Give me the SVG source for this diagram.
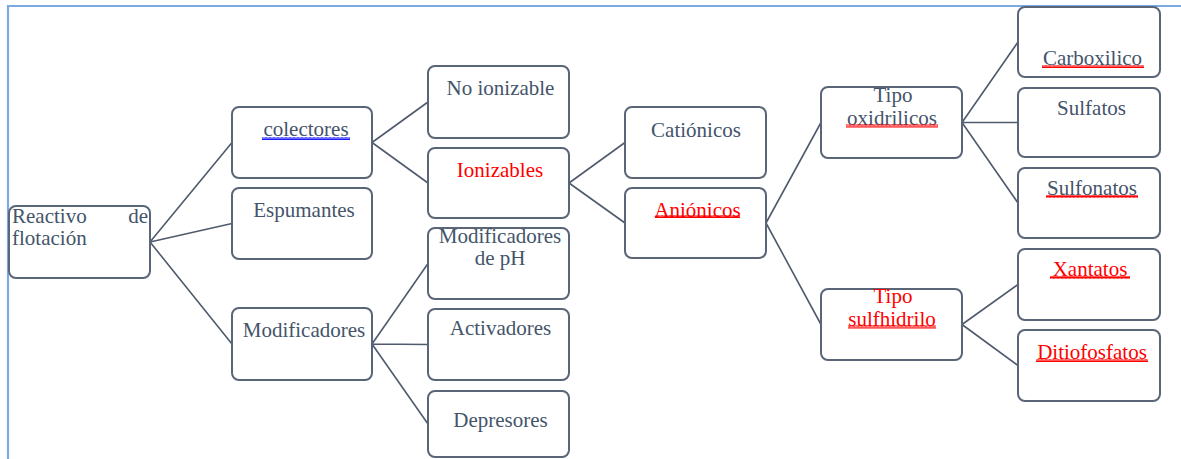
<svg xmlns="http://www.w3.org/2000/svg" width="1181" height="459" viewBox="0 0 1181 459">
<defs>
<style>
.box{fill:#fff;stroke:#5a6577;stroke-width:2;}
.t{font-family:'Liberation Serif','DejaVu Serif',serif;font-size:21px;fill:#44546A;text-anchor:middle;}
.r{fill:#FF0000;}
.l{text-anchor:start;}
.e{text-anchor:end;}
.c{stroke:#4f5b6d;stroke-width:1.6;fill:none;}
</style>
<pattern id="wr" width="4" height="3" patternUnits="userSpaceOnUse">
<path d="M0,2.6 L1,0.4 L2,2.6 L3,0.4 L4,2.6" fill="none" stroke="#FF0000" stroke-width="1.1"/>
</pattern>
<pattern id="wb" width="4" height="3" patternUnits="userSpaceOnUse">
<path d="M0,2.6 L1,0.4 L2,2.6 L3,0.4 L4,2.6" fill="none" stroke="#1a1aff" stroke-width="1.1"/>
</pattern>
</defs>
<rect width="1181" height="459" fill="#fff"/>
<path d="M8,459 V6 H1181" fill="none" stroke="#7CAAE0" stroke-width="2.2"/>

<g id="connectors">
<path class="c" d="M150,242 L232,142.5 M150,242 L232,223.5 M150,242 L232,344"/>
<path class="c" d="M372,142.5 L428,102 M372,142.5 L428,183"/>
<path class="c" d="M372,344 L428,263.5 M372,344 L428,344.5 M372,344 L428,424"/>
<path class="c" d="M569,183 L625,142.5 M569,183 L625,223"/>
<path class="c" d="M766,223 L821,122.5 M766,223 L821,324.5"/>
<path class="c" d="M962,122.5 L1018,42 M962,122.5 L1018,122.5 M962,122.5 L1018,203"/>
<path class="c" d="M962,324.5 L1018,284.5 M962,324.5 L1018,365.5"/>
</g>

<g font-family="Liberation Serif, DejaVu Serif, serif">
<g id="reactivo">
<rect class="box" x="9" y="206" width="141" height="72" rx="7"/>
<text class="t l" x="12" y="223">Reactivo</text>
<text class="t e" x="148" y="223">de</text>
<text class="t l" x="12" y="245">flotación</text>
</g>
<g id="colectores">
<rect class="box" x="232" y="107" width="140" height="71" rx="7"/>
<text class="t" x="306" y="136">colectores</text>
<rect x="262" y="137" width="88" height="3" fill="url(#wb)"/>
</g>
<g id="espumantes">
<rect class="box" x="232" y="188" width="140" height="71" rx="7"/>
<text class="t" x="304" y="217">Espumantes</text>
</g>
<g id="modificadores">
<rect class="box" x="232" y="308" width="140" height="72" rx="7"/>
<text class="t" x="304" y="337">Modificadores</text>
</g>
<g id="no-ionizable">
<rect class="box" x="428" y="66" width="141" height="72" rx="7"/>
<text class="t" x="500.5" y="95">No ionizable</text>
</g>
<g id="ionizables">
<rect class="box" x="428" y="148" width="141" height="70" rx="7"/>
<text class="t r" x="500" y="177">Ionizables</text>
</g>
<g id="modificadores-ph">
<rect class="box" x="428" y="228" width="141" height="71" rx="7"/>
<text class="t" x="500" y="242.5">Modificadores</text>
<text class="t" x="500" y="265">de pH</text>
</g>
<g id="activadores">
<rect class="box" x="428" y="309" width="141" height="71" rx="7"/>
<text class="t" x="500.5" y="335">Activadores</text>
</g>
<g id="depresores">
<rect class="box" x="428" y="391" width="141" height="66" rx="7"/>
<text class="t" x="500.5" y="427">Depresores</text>
</g>
<g id="cationicos">
<rect class="box" x="625" y="107" width="141" height="71" rx="7"/>
<text class="t" x="696" y="137">Catiónicos</text>
</g>
<g id="anionicos">
<rect class="box" x="625" y="188" width="141" height="70" rx="7"/>
<text class="t r" x="697.5" y="216.5">Aniónicos</text>
<rect x="655" y="215" width="85" height="3" fill="url(#wr)"/>
</g>
<g id="tipo-oxidrilicos">
<rect class="box" x="821" y="87" width="141" height="71" rx="7"/>
<text class="t" x="893" y="102">Tipo</text>
<text class="t" x="892" y="125">oxidrilicos</text>
<rect x="846" y="124.5" width="92" height="3" fill="url(#wr)"/>
</g>
<g id="tipo-sulfhidrilo">
<rect class="box" x="821" y="289" width="141" height="71" rx="7"/>
<text class="t r" x="893" y="303">Tipo</text>
<text class="t r" x="892" y="326">sulfhidrilo</text>
<rect x="848" y="325.5" width="88" height="3" fill="url(#wr)"/>
</g>
<g id="carboxilico">
<rect class="box" x="1018" y="7" width="142" height="70" rx="7"/>
<text class="t" x="1092.5" y="65">Carboxilico</text>
<rect x="1042" y="65" width="102" height="3" fill="url(#wr)"/>
</g>
<g id="sulfatos">
<rect class="box" x="1018" y="88" width="142" height="69" rx="7"/>
<text class="t" x="1091.5" y="115">Sulfatos</text>
</g>
<g id="sulfonatos">
<rect class="box" x="1018" y="168" width="142" height="70" rx="7"/>
<text class="t" x="1092" y="195">Sulfonatos</text>
<rect x="1046" y="195" width="92" height="3" fill="url(#wr)"/>
</g>
<g id="xantatos">
<rect class="box" x="1018" y="249" width="142" height="71" rx="7"/>
<text class="t r" x="1090" y="276">Xantatos</text>
<rect x="1050" y="276" width="80" height="3" fill="url(#wr)"/>
</g>
<g id="ditiofosfatos">
<rect class="box" x="1018" y="330" width="142" height="71" rx="7"/>
<text class="t r" x="1092" y="359">Ditiofosfatos</text>
<rect x="1036" y="359" width="112" height="3" fill="url(#wr)"/>
</g>
</g>
</svg>
